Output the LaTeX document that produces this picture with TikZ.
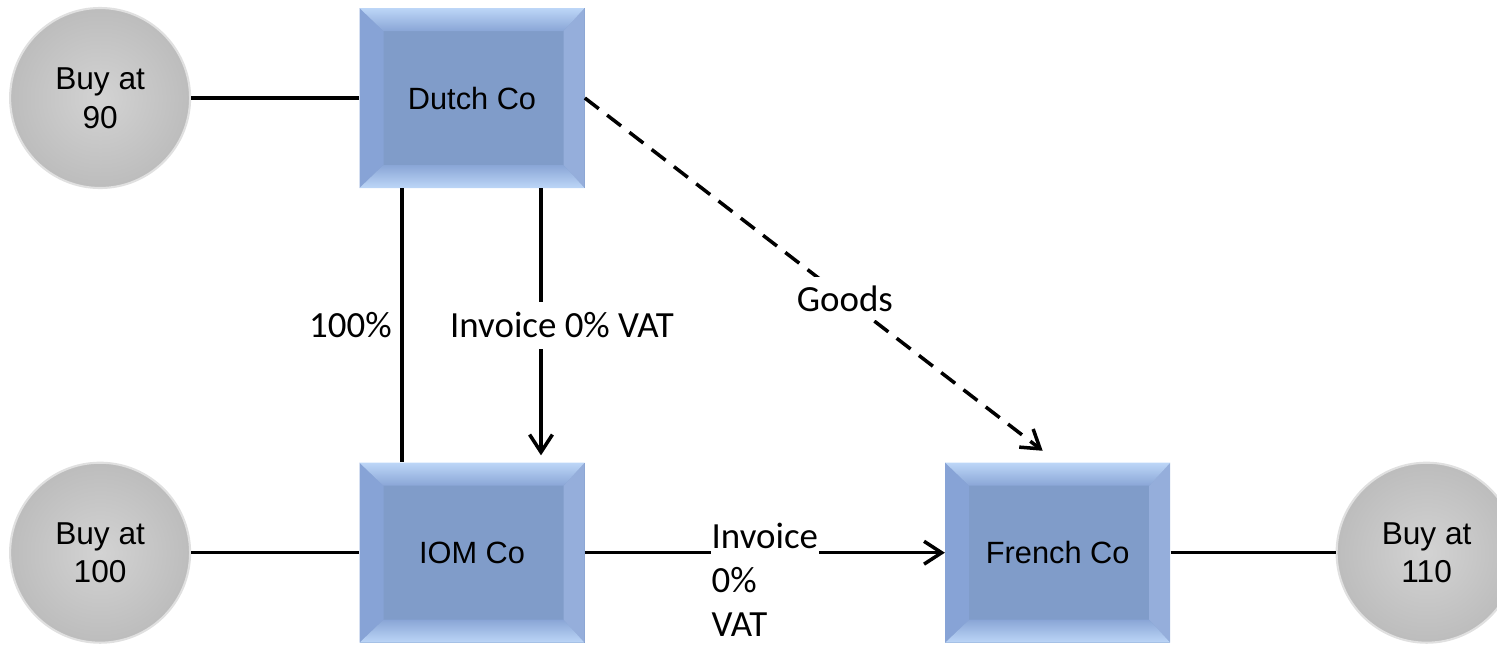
\documentclass[tikz,border=0pt]{standalone}
\usepackage{fontspec}
\setmainfont{Liberation Sans}
\newfontfamily\labelfont{Carlito}
\usepackage{tikz}
\usetikzlibrary{arrows.meta,positioning,calc}
\definecolor{boxmid}{rgb}{0.50,0.61,0.79}
\definecolor{bevlight}{rgb}{0.74,0.84,0.97}
\definecolor{bevinner}{rgb}{0.54,0.65,0.84}
\definecolor{bevside}{rgb}{0.53,0.64,0.84}
\definecolor{ballgray}{rgb}{0.77,0.77,0.77}

\begin{document}
\begin{tikzpicture}[
  cobox/.style={rectangle, minimum width=4.5cm, minimum height=3.6cm, inner sep=0pt,
                fill=boxmid, font=\fontsize{17.5}{21}\selectfont, text centered,
                path picture={
                  \path (path picture bounding box.north west) coordinate (nw)
                        (path picture bounding box.south east) coordinate (se);
                  \fill[bevside] (nw) -- ($(nw)+(0.48,-0.46)$) -- ($(nw |- se)+(0.48,0.46)$)
                        -- (nw |- se) -- cycle;
                  \fill[bevside!88!white] (se) -- ($(se)+(-0.42,0.46)$) -- ($(se |- nw)+(-0.42,-0.46)$)
                        -- (se |- nw) -- cycle;
                  \shade[top color=bevlight, bottom color=bevinner]
                        (nw) -- (se |- nw) -- ($(se |- nw)+(-0.42,-0.46)$) -- ($(nw)+(0.48,-0.46)$) -- cycle;
                  \shade[top color=bevinner, bottom color=bevlight]
                        (nw |- se) -- (se) -- ($(se)+(-0.42,0.46)$) -- ($(nw |- se)+(0.48,0.46)$) -- cycle;
                }},
  buyball/.style={circle, minimum size=3.6cm, inner sep=0pt, align=center,
                  inner color=ballgray!75!white, outer color=ballgray!96!black,
                  draw=white!88!black, line width=1.2pt,
                  font=\fontsize{18}{22}\selectfont},
  link/.style={line width=2pt},
  arr/.style={line width=2pt, -{Straight Barb[length=10pt,width=13pt,line width=2pt]}},
  garr/.style={arr, dash pattern=on 10pt off 6pt},
  lbl/.style={font=\labelfont\fontsize{21}{25}\selectfont, inner sep=2pt}
]
  \useasboundingbox (0,0) rectangle (29.94,-12.92);

  % companies
  \node[cobox] (dutch) at (9.44,-1.96) {Dutch Co};
  \node[cobox, below=5.48cm of dutch] (iom) {IOM Co};
  \node[cobox, right=7.2cm of iom] (french) {French Co};

  % buyers
  \node[buyball, left=3.36cm of dutch] (buy90) {Buy at\\90};
  \node[buyball, left=3.36cm of iom] (buy100) {Buy at\\100};
  \node[buyball, right=3.3cm of french] (buy110) {Buy at\\110};

  % links
  \draw[link] (buy90) -- (dutch);
  \draw[link] (buy100) -- (iom);
  \draw[link] (french) -- (buy110);
  \draw[link] ([xshift=-1.4cm]dutch.south) -- ([xshift=-1.4cm]iom.north)
        node[midway, left, xshift=-0.1cm, lbl]{100\%};

  % invoices
  \draw[arr, shorten >=0.14cm] ([xshift=1.38cm]dutch.south) -- ([xshift=1.38cm]iom.north)
        node[midway, xshift=0.42cm, lbl, fill=white, inner ysep=0.22cm]{Invoice 0\% VAT};
  \draw[arr] (iom) -- (french)
        node[pos=0.345, anchor=north west, yshift=0.64cm, lbl, fill=white, inner sep=0.5pt, align=left]{Invoice\\0\%\\VAT};

  % goods
  \draw[garr, shorten >=0.38cm] (dutch.east) -- (french.north)
        node[pos=0.55, lbl, fill=white, inner sep=5pt]{Goods};
\end{tikzpicture}
\end{document}
